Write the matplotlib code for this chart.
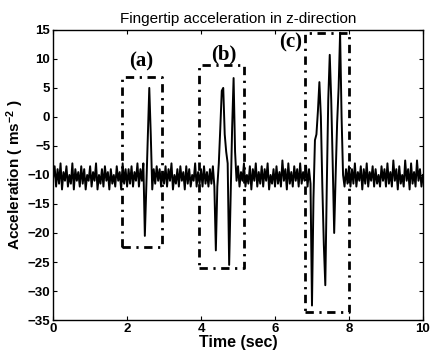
import numpy as np
import matplotlib
matplotlib.use("Agg")
import matplotlib.pyplot as plt

sample_step = 0.04
acc_sec0 = [-10.5, -8.5, -12, -9, -11.5, -8, -12.5, -9.5, -11, -8.5, -12, -10, -11.5,
            -8, -12.5, -9, -11, -9.5, -12, -8.5, -11.5, -9, -12.5, -10, -11]
acc_sec1 = [-8.5, -12, -9.5, -11, -8, -12.5, -10, -11.5, -9, -12, -8.5, -11, -9.5,
            -12.5, -9, -11.5, -10, -12, -8.5, -11, -9.5, -12.5, -8, -11.5, -9]
acc_sec2 = [-12, -9, -11.5, -8.5, -12, -9.5, -11, -8, -12, -9, -11, -8, -20.5,
            -12, -4, 5, -3, -12.5, -9, -11.5, -8.5, -11, -9, -12, -9.5]
acc_sec3 = [-11.5, -8.5, -12, -9, -11, -8, -12.5, -10, -11.5, -9, -12, -8.5, -11,
            -9.5, -12.5, -8.5, -11.5, -9, -12, -10, -11, -8, -12, -9.5, -11.5]
acc_sec4 = [-9, -12, -8.5, -11.5, -9.5, -12, -9, -11.5, -8.5, -12, -23, -12, -8,
            -2, 4.5, 5, -3, -6, -8, -25.5, -14, -2, 6.7, -6, -11]
acc_sec5 = [-8.5, -12, -9.5, -11, -8, -12, -10, -11.5, -8.5, -12.5, -9, -11, -8,
            -12, -9.5, -11.5, -8.5, -12, -9, -11, -8, -12.5, -10, -11.5, -9]
acc_sec6 = [-12, -8.5, -11.5, -9.5, -12, -7.5, -11, -9, -12.5, -8, -11.5, -9.5, -12,
            -8.5, -11, -9, -12, -8, -11.5, -9.5, -11, -8.5, -12, -9, -11.5]
acc_sec7 = [-32.5, -14, -4, -3, 1, 6, 0, -12, -22, -29, -12, 3, 10.7,
            3, -8, -20, -10, -1, 5, 14.5, 0, -10, -12, -9, -11.5]
acc_sec8 = [-8.5, -12, -9, -11.5, -8, -12, -9.5, -11, -8.5, -12.5, -9, -11.5, -8,
            -12, -9.5, -11, -8.5, -12, -9, -11.5, -10, -12, -8.5, -11, -9]
acc_sec9 = [-12, -8, -11.5, -9.5, -12, -7.5, -11, -9, -12.5, -8.5, -11.5, -10, -12,
            -7.5, -11, -9, -12.5, -8, -11.5, -9.5, -12, -7.5, -11, -9, -12, -10]

# dash-dot boxes: [x0, x1, y0, y1]
box_a = [1.86, 2.94, -22.5, 6.8]
box_b = [3.95, 5.17, -26.0, 9.0]
box_c = [6.81, 8.00, -33.6, 14.5]
box_labels = ["(a)", "(b)", "(c)"]
label_x = [2.38, 4.62, 6.43]
label_y = [9.5, 10.7, 12.9]

x_ticks = [0, 2, 4, 6, 8, 10]
y_ticks = [-35, -30, -25, -20, -15, -10, -5, 0, 5, 10, 15]

acc = np.array(acc_sec0 + acc_sec1 + acc_sec2 + acc_sec3 + acc_sec4 +
               acc_sec5 + acc_sec6 + acc_sec7 + acc_sec8 + acc_sec9)
t = np.arange(len(acc)) * sample_step

plt.rcParams['font.family'] = ['Liberation Sans', 'DejaVu Sans']
plt.rcParams['mathtext.fontset'] = 'custom'
plt.rcParams['mathtext.rm'] = 'Liberation Sans:bold'
plt.rcParams['mathtext.it'] = 'Liberation Sans:bold'
plt.rcParams['mathtext.bf'] = 'Liberation Sans:bold'
plt.rcParams['mathtext.default'] = 'rm'

fig = plt.figure(figsize=(4.32, 3.6), dpi=100)
ax = fig.add_axes([0.123, 0.111, 0.856, 0.806])

ax.plot(t, acc, color='black', lw=1.4)

for b in (box_a, box_b, box_c):
    x0, x1, y0, y1 = b
    ax.plot([x0, x1, x1, x0, x0], [y0, y0, y1, y1, y0], color='black', lw=2.0,
            linestyle=(0, (3, 2, 0.8, 2)))

for lab, lx, ly in zip(box_labels, label_x, label_y):
    ax.text(lx, ly, lab, ha='center', va='center', fontsize=15,
            family=['Liberation Serif'], fontweight='bold')

ax.set_xlim(0, 10)
ax.set_ylim(-35, 15)
ax.set_xticks(x_ticks)
ax.set_yticks(y_ticks)
ax.tick_params(direction='in', top=True, right=True, length=3, width=0.8,
               labelsize=9.5, pad=2)
for lab in ax.get_xticklabels() + ax.get_yticklabels():
    lab.set_fontweight('bold')
for s in ax.spines.values():
    s.set_linewidth(1.0)

ax.set_xlabel('Time (sec)', fontsize=11.5, fontweight='bold', labelpad=0)
ax.set_ylabel('Acceleration ( ms$^{-2}$ )', fontsize=11, fontweight='bold', labelpad=1)
ax.set_title('Fingertip acceleration in z-direction', fontsize=11, pad=5)

fig.savefig('out.png', dpi=100)
